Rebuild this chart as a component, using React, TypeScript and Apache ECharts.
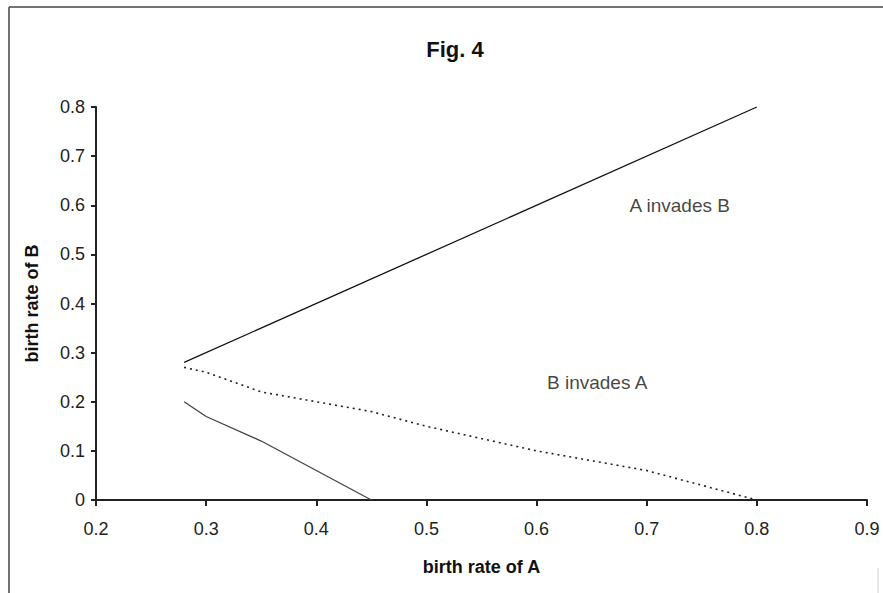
import React, { useEffect, useRef } from "react";
import * as echarts from "echarts";

const titleText = "Fig. 4";
const xAxisName = "birth rate of A";
const yAxisName = "birth rate of B";

// upper boundary (solid)
const upperX = [0.28, 0.8];
const upperY = [0.28, 0.8];
// middle boundary (dotted)
const dottedX = [0.28, 0.3, 0.35, 0.4, 0.45, 0.5, 0.6, 0.7, 0.8];
const dottedY = [0.27, 0.26, 0.22, 0.2, 0.18, 0.15, 0.1, 0.06, 0];
// lower boundary (solid)
const lowerX = [0.28, 0.3, 0.35, 0.45];
const lowerY = [0.2, 0.17, 0.12, 0];

const regionLabels = ["A invades B", "B invades A"];
const regionX = [0.73, 0.655];
const regionY = [0.6, 0.24];

const zip = (xs: number[], ys: number[]) => xs.map((x, i) => [x, ys[i]]);

export default function App() {
  const ref = useRef<HTMLDivElement>(null);
  useEffect(() => {
    if (!ref.current) return;
    const chart = echarts.init(ref.current, null, { renderer: "svg" });
    const font = "'Liberation Sans', Arial, sans-serif";
    chart.setOption({
      animation: false,
      backgroundColor: "#ffffff",
      title: {
        text: titleText,
        left: 450,
        top: 33,
        textAlign: "center",
        textStyle: { fontFamily: font, fontWeight: "bold", fontSize: 22, color: "#111" },
      },
      grid: { left: 96, right: 16, top: 107, bottom: 93 },
      xAxis: {
        type: "value",
        min: 0.2,
        max: 0.9,
        interval: 0.1,
        name: xAxisName,
        nameLocation: "middle",
        nameGap: 58,
        nameTextStyle: { fontFamily: font, fontWeight: "bold", fontSize: 18, color: "#111" },
        axisLine: { lineStyle: { color: "#222", width: 2 } },
        axisTick: { show: true, inside: false, length: 6, lineStyle: { color: "#222", width: 2 } },
        axisLabel: {
          margin: 20,
          fontFamily: font,
          fontSize: 18,
          color: "#222",
          formatter: (v: number) => v.toFixed(1),
        },
        splitLine: { show: false },
      },
      yAxis: {
        type: "value",
        min: 0,
        max: 0.8,
        interval: 0.1,
        name: yAxisName,
        nameLocation: "middle",
        nameGap: 55,
        nameTextStyle: { fontFamily: font, fontWeight: "bold", fontSize: 18, color: "#111" },
        axisLine: { show: true, lineStyle: { color: "#222", width: 2 } },
        axisTick: { show: true, inside: false, length: 5, lineStyle: { color: "#222", width: 2 } },
        axisLabel: {
          margin: 11,
          fontFamily: font,
          fontSize: 18,
          color: "#222",
          formatter: (v: number) => (v === 0 ? "0" : v.toFixed(1)),
        },
        splitLine: { show: false },
      },
      series: [
        {
          type: "line",
          data: zip(upperX, upperY),
          symbol: "none",
          lineStyle: { color: "#111", width: 1.3, type: "solid" },
        },
        {
          type: "line",
          data: zip(dottedX, dottedY),
          symbol: "none",
          lineStyle: { color: "#222", width: 1.6, type: [2, 4] },
        },
        {
          type: "line",
          data: zip(lowerX, lowerY),
          symbol: "none",
          lineStyle: { color: "#444", width: 1.3, type: "solid" },
        },
        {
          type: "scatter",
          data: regionLabels.map((t, i) => ({ value: [regionX[i], regionY[i]], name: t })),
          symbolSize: 0,
          silent: true,
          label: {
            show: true,
            position: "inside",
            formatter: (p: any) => p.name,
            fontFamily: font,
            fontSize: 19,
            color: "#111",
          },
        },
      ],
      graphic: [
        { type: "line", shape: { x1: 9, y1: 7, x2: 9, y2: 593 }, style: { stroke: "#444", lineWidth: 1.5 } },
        { type: "line", shape: { x1: 9, y1: 7, x2: 883, y2: 7 }, style: { stroke: "#444", lineWidth: 1.5 } },
        { type: "line", shape: { x1: 878, y1: 568, x2: 878, y2: 593 }, style: { stroke: "#ccc", lineWidth: 1 } },
      ],
    });
    return () => chart.dispose();
  }, []);
  return (
    <div
      ref={ref}
      style={{ position: "fixed", left: 0, top: 0, width: 883, height: 593, background: "#fff" }}
    />
  );
}
